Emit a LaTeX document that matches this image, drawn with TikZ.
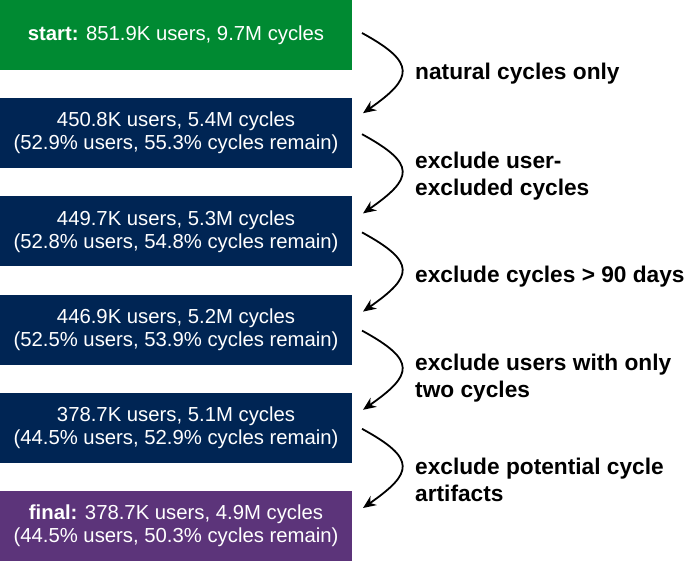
\documentclass[tikz,border=0pt]{standalone}
\usepackage{fontspec}
\setmainfont{Liberation Sans}
\usetikzlibrary{arrows.meta, positioning, calc}
\definecolor{startgreen}{RGB}{0,138,50}
\definecolor{stepnavy}{RGB}{0,37,84}
\definecolor{finalpurple}{RGB}{92,52,122}

\begin{document}
\begin{tikzpicture}[
    x=1pt, y=1pt,
    stage/.style={text=white, minimum width=352pt, minimum height=70pt, inner sep=0pt, outer sep=0pt, align=center, font=\fontsize{20.3}{23}\selectfont},
    flow/.style={-{Stealth[length=13pt, width=11pt]}, line width=1.8pt},
    filt/.style={anchor=west, align=left, font=\fontsize{22.7}{27}\selectfont\bfseries, inner sep=0pt}
]
\useasboundingbox (0,0) rectangle (685,-561);
% Stages
\node[stage, fill=startgreen] (start) at (176,-35) {\textbf{start:} 851.9K users, 9.7M cycles};
\node[stage, fill=stepnavy] (s1) at (176,-133.2) {450.8K users, 5.4M cycles\\(52.9\% users, 55.3\% cycles remain)};
\node[stage, fill=stepnavy] (s2) at (176,-231.4) {449.7K users, 5.3M cycles\\(52.8\% users, 54.8\% cycles remain)};
\node[stage, fill=stepnavy] (s3) at (176,-329.6) {446.9K users, 5.2M cycles\\(52.5\% users, 53.9\% cycles remain)};
\node[stage, fill=stepnavy] (s4) at (176,-427.8) {378.7K users, 5.1M cycles\\(44.5\% users, 52.9\% cycles remain)};
\node[stage, fill=finalpurple] (final) at (176,-526) {\textbf{final:} 378.7K users, 4.9M cycles\\(44.5\% users, 50.3\% cycles remain)};
% Filter labels
\node[filt] (l1) at (415,-74) {natural cycles only};
\node[filt] (l2) at (415,-176.5) {exclude user-\\excluded cycles};
\node[filt] (l3) at (415,-277) {exclude cycles > 90 days};
\node[filt] (l4) at (415,-378) {exclude users with only\\two cycles};
\node[filt] (l5) at (415,-480) {exclude potential cycle\\artifacts};
% Arrows
\draw[flow] ($(start.east)+(10,2)$) .. controls +(55,-30) and +(50,35) .. ($(s1.east)+(11,20)$);
\draw[flow] ($(s1.east)+(10,-1)$) .. controls +(55,-30) and +(50,35) .. ($(s2.east)+(11,18)$);
\draw[flow] ($(s2.east)+(10,-1)$) .. controls +(55,-30) and +(50,35) .. ($(s3.east)+(11,18)$);
\draw[flow] ($(s3.east)+(10,-1)$) .. controls +(55,-30) and +(50,35) .. ($(s4.east)+(11,18)$);
\draw[flow] ($(s4.east)+(10,-1)$) .. controls +(55,-30) and +(50,35) .. ($(final.east)+(11,18)$);
\end{tikzpicture}
\end{document}
